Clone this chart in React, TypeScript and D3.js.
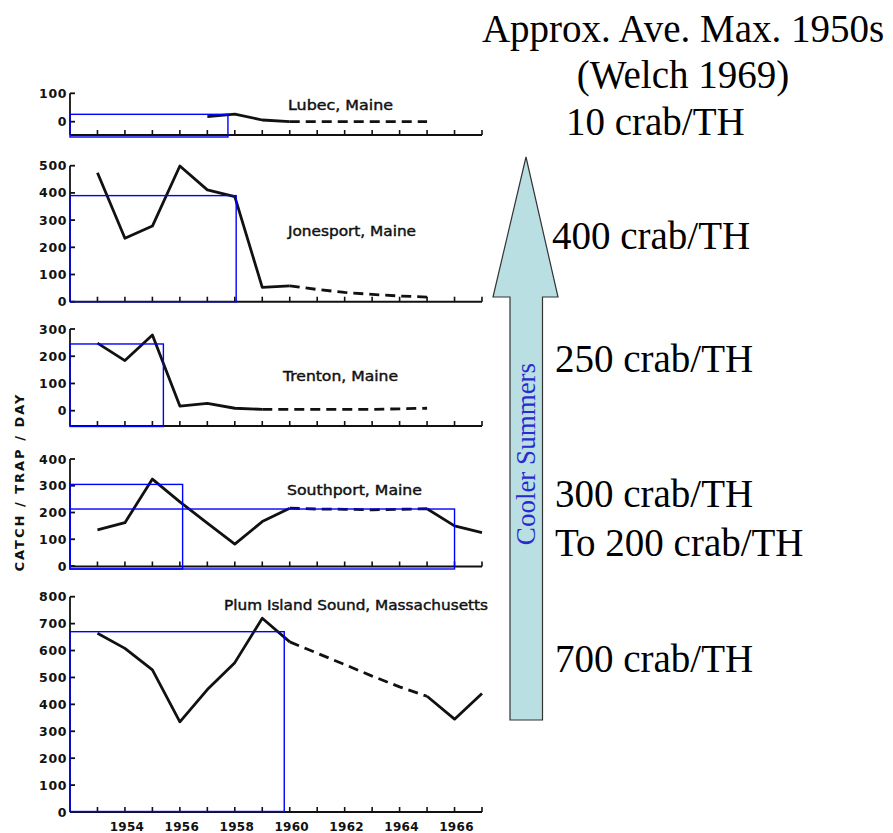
import React from 'react';
import * as d3 from 'd3';

// ---------- DATA ----------
const tickYears = [1953, 1954, 1955, 1956, 1957, 1958, 1959, 1960, 1961, 1962, 1963, 1964, 1965, 1966, 1967];
const labelYears = [1954, 1956, 1958, 1960, 1962, 1964, 1966];

const lubecSolidYears = [1957, 1958, 1959, 1960];
const lubecSolid = [18, 27, 6, 0];
const lubecDashedYears = [1960, 1961, 1962, 1963, 1964, 1965];
const lubecDashed = [0, 0, 0, 0, 0, 0];
const lubecTicks = [0, 100];

const jonesSolidYears = [1953, 1954, 1955, 1956, 1957, 1958, 1959, 1960];
const jonesSolid = [474, 233, 278, 499, 411, 386, 53, 58];
const jonesDashedYears = [1960, 1961, 1962, 1963, 1964, 1965];
const jonesDashed = [58, 45, 34, 27, 21, 17];
const jonesTicks = [0, 100, 200, 300, 400, 500];

const trentonSolidYears = [1953, 1954, 1955, 1956, 1957, 1958, 1959];
const trentonSolid = [248, 184, 278, 17, 27, 9, 5];
const trentonDashedYears = [1959, 1960, 1961, 1962, 1963, 1964, 1965];
const trentonDashed = [5, 5, 5, 5, 5, 7, 9];
const trentonTicks = [0, 100, 200, 300];

const southSolidYears = [1953, 1954, 1955, 1956, 1957, 1958, 1959, 1960];
const southSolid = [135, 162, 325, 240, 160, 82, 166, 216];
const southDashedYears = [1960, 1961, 1962, 1963, 1964, 1965];
const southDashed = [216, 213, 212, 210, 212, 214];
const southSolid2Years = [1965, 1966, 1967];
const southSolid2 = [214, 150, 125];
const southTicks = [0, 100, 200, 300, 400];

const plumSolidYears = [1953, 1954, 1955, 1956, 1957, 1958, 1959, 1960];
const plumSolid = [664, 608, 528, 335, 455, 555, 720, 632];
const plumDashedYears = [1960, 1961, 1962, 1963, 1964, 1965];
const plumDashed = [632, 590, 548, 505, 465, 430];
const plumSolid2Years = [1965, 1966, 1967];
const plumSolid2 = [430, 345, 440];
const plumTicks = [0, 100, 200, 300, 400, 500, 600, 700, 800];

// blue "approx ave max" boxes: [endYear, topValue]
const lubecBoxes = [[1957.75, 26]];
const jonesBoxes = [[1958.05, 390]];
const trentonBoxes = [[1955.4, 245]];
const southBoxes = [[1956.1, 305], [1966.0, 213]];
const plumBoxes = [[1959.8, 670]];

const rightNotes = ['10 crab/TH', '400 crab/TH', '250 crab/TH', '300 crab/TH', 'To 200 crab/TH', '700 crab/TH'];

// ---------- LAYOUT ----------
const W = 893, H = 833;
const x = d3.scaleLinear().domain([1952, 1967]).range([70, 482]);

type Panel = {
  title: string; titleX: number; titleY: number; titleLen: number;
  ticks: number[]; pxZero: number; pxTop: number; baseline: number; boxBottom: number;
  series: { yrs: number[]; vals: number[]; dashed: boolean }[];
  boxes: number[][];
};

const panels: Panel[] = [
  {
    title: 'Lubec, Maine', titleX: 288, titleY: 110, titleLen: 105,
    ticks: lubecTicks, pxZero: 121.7, pxTop: 93.3, baseline: 135, boxBottom: 137,
    series: [
      { yrs: lubecSolidYears, vals: lubecSolid, dashed: false },
      { yrs: lubecDashedYears, vals: lubecDashed, dashed: true },
    ],
    boxes: lubecBoxes,
  },
  {
    title: 'Jonesport, Maine', titleX: 288, titleY: 236, titleLen: 128,
    ticks: jonesTicks, pxZero: 301.7, pxTop: 165.7, baseline: 301.7, boxBottom: 301.7,
    series: [
      { yrs: jonesSolidYears, vals: jonesSolid, dashed: false },
      { yrs: jonesDashedYears, vals: jonesDashed, dashed: true },
    ],
    boxes: jonesBoxes,
  },
  {
    title: 'Trenton, Maine', titleX: 283, titleY: 381, titleLen: 115,
    ticks: trentonTicks, pxZero: 410.7, pxTop: 329, baseline: 426, boxBottom: 426.5,
    series: [
      { yrs: trentonSolidYears, vals: trentonSolid, dashed: false },
      { yrs: trentonDashedYears, vals: trentonDashed, dashed: true },
    ],
    boxes: trentonBoxes,
  },
  {
    title: 'Southport, Maine', titleX: 287, titleY: 495, titleLen: 135,
    ticks: southTicks, pxZero: 566, pxTop: 459, baseline: 566.5, boxBottom: 569,
    series: [
      { yrs: southSolidYears, vals: southSolid, dashed: false },
      { yrs: southDashedYears, vals: southDashed, dashed: true },
      { yrs: southSolid2Years, vals: southSolid2, dashed: false },
    ],
    boxes: southBoxes,
  },
  {
    title: 'Plum Island Sound, Massachusetts', titleX: 224, titleY: 610, titleLen: 264,
    ticks: plumTicks, pxZero: 812, pxTop: 596.7, baseline: 812, boxBottom: 811.5,
    series: [
      { yrs: plumSolidYears, vals: plumSolid, dashed: false },
      { yrs: plumDashedYears, vals: plumDashed, dashed: true },
      { yrs: plumSolid2Years, vals: plumSolid2, dashed: false },
    ],
    boxes: plumBoxes,
  },
];

const noteYs = [135, 249, 372, 507, 556, 672];
const noteXs = [566, 552, 555, 555, 555, 555];

const tickFont = '"DejaVu Sans", sans-serif';

function PanelView({ p }: { p: Panel }) {
  const top = p.ticks[p.ticks.length - 1];
  const y = d3.scaleLinear().domain([0, top]).range([p.pxZero, p.pxTop]);
  const line = d3.line<[number, number]>().x(d => x(d[0])).y(d => y(d[1]));
  const x0 = x(1952);
  return (
    <g>
      {/* y axis */}
      <line x1={x0} x2={x0} y1={y(top)} y2={p.baseline} stroke="#111" strokeWidth={1.8} />
      {p.ticks.map(t => (
        <g key={t}>
          <line x1={x0} x2={x0 + 5} y1={y(t)} y2={y(t)} stroke="#111" strokeWidth={1.8} />
          <text x={67} y={y(t)} dy="0.36em" textAnchor="end" fontFamily={tickFont} fontWeight="bold"
            fontSize={12.5} letterSpacing={0.6} fill="#111">{t}</text>
        </g>
      ))}
      {/* x axis */}
      <line x1={x0} x2={x(1967)} y1={p.baseline} y2={p.baseline} stroke="#111" strokeWidth={2} />
      {tickYears.map(t => (
        <line key={t} x1={x(t)} x2={x(t)} y1={p.baseline} y2={p.baseline - 5} stroke="#111" strokeWidth={1.6} />
      ))}
      {/* series */}
      {p.series.map((s, i) => (
        <path key={i} d={line(s.yrs.map((yr, j) => [yr, s.vals[j]] as [number, number])) || ''}
          fill="none" stroke="#111" strokeWidth={2.8} strokeLinejoin="round"
          strokeDasharray={s.dashed ? '10,6' : undefined} />
      ))}
      {/* title */}
      <text x={p.titleX} y={p.titleY} fontFamily={tickFont} fontSize={14.5} textLength={p.titleLen}
        lengthAdjust="spacingAndGlyphs" fill="#111" stroke="#111" strokeWidth={0.45}>{p.title}</text>
      {/* blue boxes */}
      {p.boxes.map((b, i) => (
        <rect key={i} x={x0} y={y(b[1])} width={x(b[0]) - x0} height={p.boxBottom - y(b[1])}
          fill="none" stroke="#0000ff" strokeWidth={1.4} />
      ))}
    </g>
  );
}

export default function App() {
  const serif = '"Liberation Serif", "Times New Roman", serif';
  const arrowPts: [number, number][] = [
    [526, 157], [558, 297], [542.5, 297], [542.5, 720], [510, 720], [510, 297], [493, 297],
  ];
  return (
    <svg width={W} height={H} style={{ position: 'absolute', left: 0, top: 0, background: '#fff' }}>
      <rect x={0} y={0} width={W} height={H} fill="#fff" />
      {panels.map((p, i) => <PanelView key={i} p={p} />)}
      {/* x labels */}
      {labelYears.map(yr => (
        <text key={yr} x={x(yr) + 2} y={830.5} textAnchor="middle" fontFamily={tickFont} fontWeight="bold"
          fontSize={12} letterSpacing={0.3} fill="#111">{yr}</text>
      ))}
      {/* y axis title */}
      <text transform="translate(24,483) rotate(-90)" textAnchor="middle" fontFamily={tickFont}
        fontWeight="bold" fontSize={13} textLength={177} lengthAdjust="spacing" fill="#111">CATCH / TRAP / DAY</text>
      {/* arrow */}
      <polygon points={arrowPts.map(p => p.join(',')).join(' ')} fill="#b9dfe3" stroke="#333" strokeWidth={1.2} />
      <text transform="translate(535,454) rotate(-90)" textAnchor="middle" fontFamily={serif} fontSize={27}
        fill="#2a2ad0">Cooler Summers</text>
      {/* right-hand notes */}
      <text x={683} y={42} textAnchor="middle" fontFamily={serif} fontSize={39} fill="#000">Approx. Ave. Max. 1950s</text>
      <text x={683} y={88} textAnchor="middle" fontFamily={serif} fontSize={39} fill="#000">(Welch 1969)</text>
      {rightNotes.map((t, i) => (
        <text key={i} x={noteXs[i]} y={noteYs[i]} fontFamily={serif} fontSize={39} fill="#000">{t}</text>
      ))}
    </svg>
  );
}
